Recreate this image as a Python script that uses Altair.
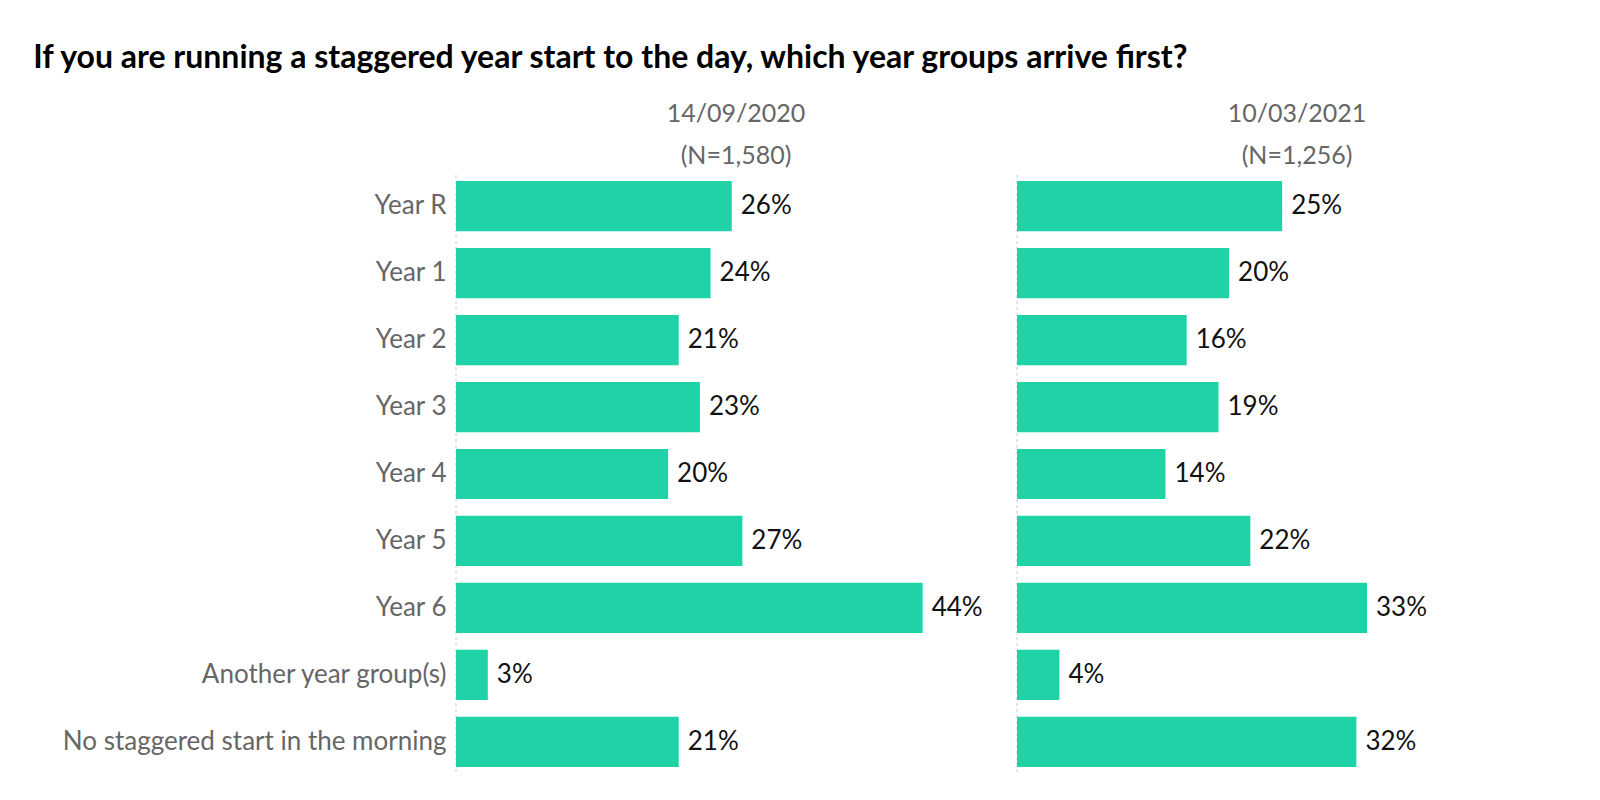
import altair as alt
import pandas as pd

categories = ["Year R", "Year 1", "Year 2", "Year 3", "Year 4", "Year 5", "Year 6",
              "Another year group(s)", "No staggered start in the morning"]
values_2020 = [26, 24, 21, 23, 20, 27, 44, 3, 21]
values_2021 = [25, 20, 16, 19, 14, 22, 33, 4, 32]
panel_dates = ["14/09/2020", "10/03/2021"]
panel_ns = ["(N=1,580)", "(N=1,256)"]

BAR = "#20d3a6"
FONT = "Lato"
W, H = 560, 598
XMAX = 52.8


def panel(vals, date, n, show_y):
    df = pd.DataFrame({"category": categories, "value": vals,
                       "label": [f"{v}%" for v in vals]})
    y = alt.Y("category:N", sort=categories, title=None,
              scale=alt.Scale(paddingInner=0.25, paddingOuter=0.09),
              axis=alt.Axis(labels=show_y, ticks=False, domain=False, grid=False,
                            labelFont=FONT, labelFontSize=26, labelColor="#666666",
                            labelPadding=10, labelLimit=600))
    x = alt.X("value:Q", scale=alt.Scale(domain=[0, XMAX]), axis=None)
    base = alt.Chart(df)
    rule = alt.Chart(pd.DataFrame({"v": [0]})).mark_rule(
        color="#cccccc", strokeDash=[3, 3], strokeWidth=1).encode(
        x=alt.value(0), y=alt.value(0), y2=alt.value(H))
    bars = base.mark_bar(color=BAR).encode(x=x, y=y)
    text = base.mark_text(align="left", dx=9, font=FONT, fontSize=26, color="#111111").encode(
        x=x, y=y, text="label:N")
    return alt.layer(rule, bars, text).properties(
        width=W, height=H,
        title=alt.TitleParams([date, n], font=FONT, fontSize=25, fontWeight="normal",
                              color="#666666", anchor="middle", lineHeight=42, offset=6))


chart = alt.hconcat(
    panel(values_2020, panel_dates[0], panel_ns[0], True),
    panel(values_2021, panel_dates[1], panel_ns[1], False),
    spacing=0,
).properties(
    title=alt.TitleParams("If you are running a staggered year start to the day, which year groups arrive first?",
                          font=FONT, fontSize=32, fontWeight="bold", color="#000000",
                          anchor="start", offset=27, dx=-29),
    padding={"left": 25, "top": 33, "right": 10, "bottom": 5},
    background="white",
).configure_view(stroke=None)

chart.save("out.html", embed_options={"renderer": "svg", "actions": False})
